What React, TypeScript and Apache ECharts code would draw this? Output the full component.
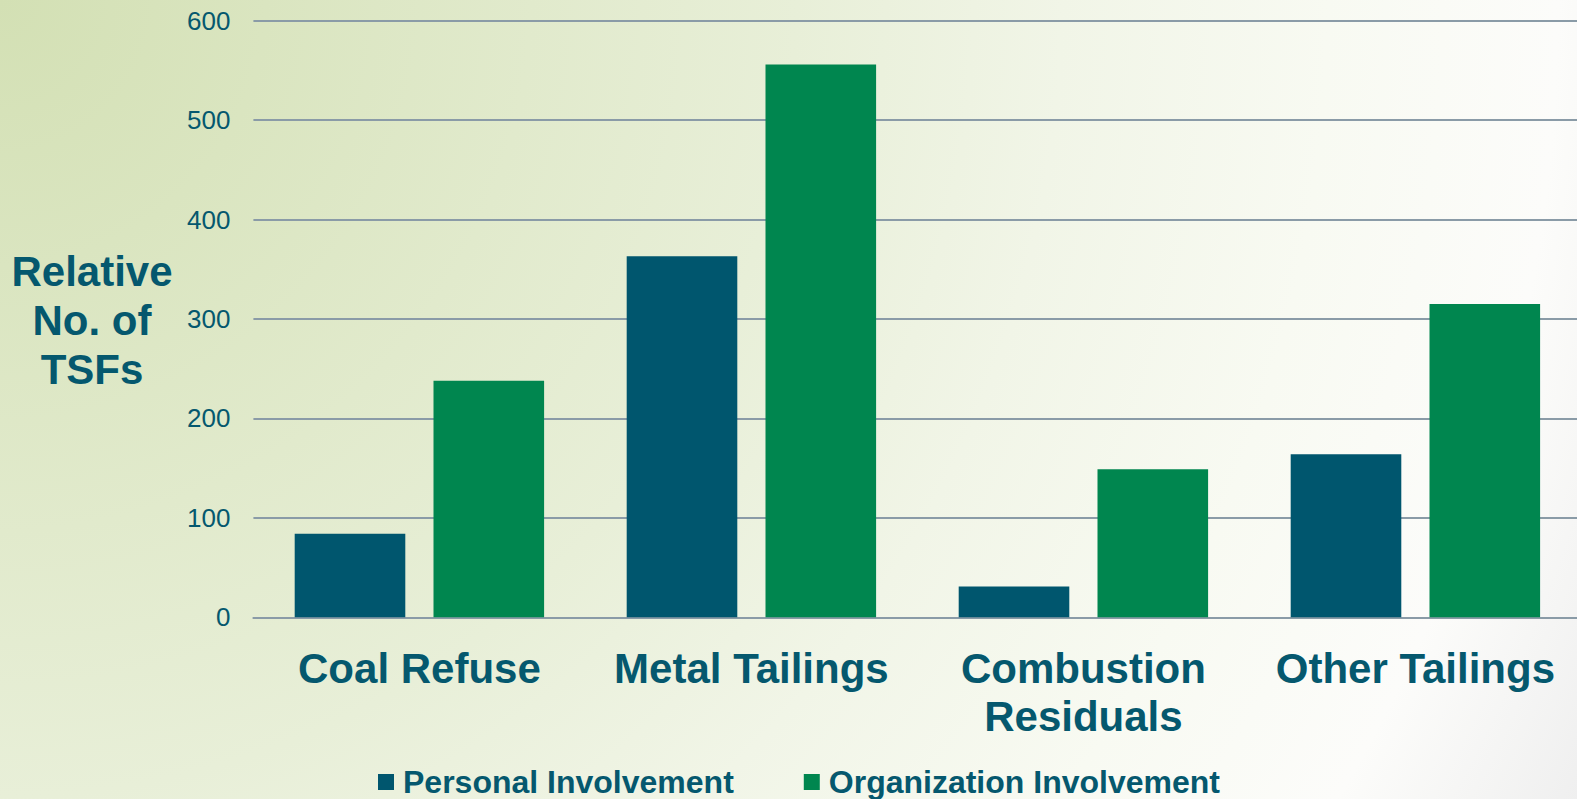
import { useEffect, useRef } from 'react';
import * as echarts from 'echarts';

const categories = ['Coal Refuse', 'Metal Tailings', 'Combustion\nResiduals', 'Other Tailings'];
const seriesNames = ['Personal Involvement', 'Organization Involvement'];
const personalInvolvement = [84, 363, 31, 164];
const organizationInvolvement = [238, 556, 149, 315];
const yMin = 0;
const yMax = 600;
const yInterval = 100;
const yAxisTitle = 'Relative\nNo. of\nTSFs';

const TEXT = '#05586e';
const BLUE = '#00566e';
const GREEN = '#00864f';
const GRID = '#8a9ba7';
const FONT = "Arial, 'Liberation Sans', sans-serif";
const W = 1582;
const H = 799;

export default function App() {
  const ref = useRef<HTMLDivElement>(null);
  useEffect(() => {
    document.body.style.margin = '0';
    document.body.style.overflow = 'hidden';
    document.documentElement.style.overflow = 'hidden';
    const chart = echarts.init(ref.current!, null, { renderer: 'svg' });
    chart.setOption({
      animation: false,
      graphic: [
        {
          type: 'rect',
          left: 0,
          top: 0,
          z: -100,
          silent: true,
          shape: { width: W, height: H },
          style: {
            fill: new echarts.graphic.RadialGradient(
              0,
              0,
              1770,
              [
                { offset: 0, color: '#d3e0b4' },
                { offset: 0.45, color: '#e8efd8' },
                { offset: 0.6, color: '#f1f5e7' },
                { offset: 0.75, color: '#f8faf2' },
                { offset: 0.88, color: '#fcfcfa' },
                { offset: 1, color: '#efefef' },
              ],
              true
            ),
          },
        },
        {
          type: 'text',
          x: 92,
          y: 320,
          z: 10,
          style: {
            text: yAxisTitle,
            fill: TEXT,
            font: `bold 42px ${FONT}`,
            lineHeight: 49,
            align: 'center',
            verticalAlign: 'middle',
          },
        },
      ],
      legend: {
        left: 378,
        top: 766,
        padding: 0,
        icon: 'rect',
        itemWidth: 16,
        itemHeight: 16,
        itemGap: 70,
        data: seriesNames,
        textStyle: {
          color: TEXT,
          fontFamily: FONT,
          fontWeight: 'bold',
          fontSize: 32,
          lineHeight: 32,
          padding: [0, 0, 0, 4],
        },
      },
      grid: { left: 253.4, right: 0.6, top: 20.7, bottom: 181.7, containLabel: false },
      xAxis: {
        type: 'category',
        data: categories,
        axisTick: { show: false },
        axisLine: { show: true, lineStyle: { color: GRID, width: 2 } },
        axisLabel: {
          color: TEXT,
          fontFamily: FONT,
          fontWeight: 'bold',
          fontSize: 42,
          lineHeight: 48,
          margin: 27,
          interval: 0,
        },
      },
      yAxis: {
        type: 'value',
        min: yMin,
        max: yMax,
        interval: yInterval,
        axisLine: { show: false },
        axisTick: { show: false },
        splitLine: { lineStyle: { color: GRID, width: 2 } },
        axisLabel: { color: TEXT, fontFamily: FONT, fontSize: 26, margin: 23 },
      },
      series: [
        {
          name: seriesNames[0],
          type: 'bar',
          data: personalInvolvement,
          barWidth: 110.6,
          barGap: '25.5%',
          itemStyle: { color: BLUE },
        },
        {
          name: seriesNames[1],
          type: 'bar',
          data: organizationInvolvement,
          barWidth: 110.6,
          barGap: '25.5%',
          itemStyle: { color: GREEN },
        },
      ],
    });
    return () => chart.dispose();
  }, []);
  return <div ref={ref} style={{ position: 'absolute', left: 0, top: 0, width: W, height: H }} />;
}
